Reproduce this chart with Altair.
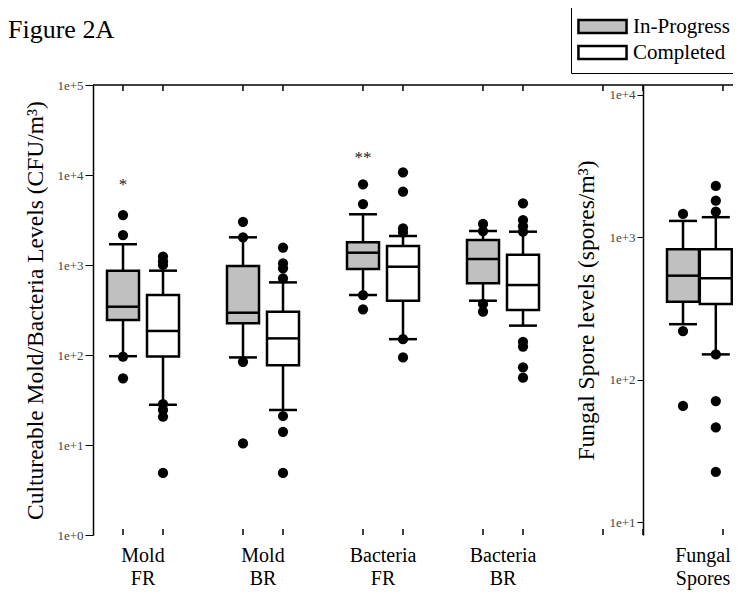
import altair as alt
import pandas as pd

# ---------------- data ----------------
categories = ["Mold FR", "Mold BR", "Bacteria FR", "Bacteria BR", "Fungal Spores"]
statuses = ["In-Progress", "Completed"]

# one entry per box: for each category In-Progress then Completed
whisker_low = [97, 28, 94, 24.5, 464, 150, 401, 212, 246, 151]
q1 = [245, 96, 225, 77, 903, 401, 626, 316, 354, 341]
median = [344, 185, 295, 153, 1370, 957, 1166, 599, 539, 517]
q3 = [865, 464, 975, 302, 1787, 1625, 1896, 1302, 826, 826]
whisker_high = [1700, 865, 2030, 641, 3660, 2100, 2386, 2345, 1306, 1387]
outliers = [
    [3590, 2150, 96, 55],
    [1240, 1100, 1000, 28.5, 24.5, 20.6, 4.9],
    [3020, 2030, 84, 10.4],
    [1560, 1040, 920, 710, 21, 14, 4.9],
    [7880, 4760, 464, 322],
    [10700, 6530, 2550, 2300, 150, 94],
    [2856, 2386, 369, 303],
    [4840, 3160, 2700, 2345, 140, 124, 73, 56],
    [1463, 220, 65.6],
    [2301, 1811, 1517, 151, 71, 46.4, 22.6],
]
annot_text = ["*", "**"]
annot_category = ["Mold FR", "Bacteria FR"]
annot_value = [7700, 15500]

left_ticks = [1, 10, 100, 1000, 10000, 100000]
right_ticks = [10, 100, 1000, 10000]

# ---------------- layout ----------------
UNIT = 40.0
PLOT_W = 640
PLOT_H = 450
XMAX = PLOT_W / UNIT
AXIS2_POS = 13.75
FONT = "Liberation Serif"
LW = 2.5
HALF = 0.4


def box_pos(ci, si):
    if ci < 4:
        return 3 * ci + 0.75 + si
    # right panel is squeezed slightly so its last box stays inside the page
    return AXIS2_POS + 1 + 0.82 * si


rows, out_rows = [], []
k = 0
for ci, cat in enumerate(categories):
    for si, st in enumerate(statuses):
        p = box_pos(ci, si)
        panel = "left" if ci < 4 else "right"
        rows.append(dict(category=cat, status=st, pos=p, panel=panel,
                         wl=whisker_low[k], q1=q1[k], med=median[k],
                         q3=q3[k], wh=whisker_high[k]))
        for v in outliers[k]:
            out_rows.append(dict(category=cat, status=st, pos=p, panel=panel, value=v))
        k += 1
boxes = pd.DataFrame(rows)
outs = pd.DataFrame(out_rows)

annot = pd.DataFrame({
    "mark": annot_text,
    "pos": [box_pos(categories.index(c), 0) for c in annot_category],
    "value": annot_value,
})

sep_ticks = [3 * g + 2.75 for g in range(5)]
minor_ticks = [kk + 0.75 for kk in range(17) if kk % 3 != 2 and kk + 0.75 < XMAX]

xscale = alt.Scale(domain=[0, XMAX], nice=False, zero=False)
fillscale = alt.Scale(domain=statuses, range=["#c0c0c0", "#ffffff"])
left_y = alt.Scale(type="log", domain=[1, 100000], nice=False)
right_y = alt.Scale(type="log", domain=[8.15, 11750], nice=False)

legend = alt.Legend(
    title=None, orient="none", legendX=478, legendY=-82, direction="vertical",
    symbolType="M-1.85,-0.5H1.85V0.5H-1.85Z", symbolSize=676,
    symbolStrokeColor="black", symbolStrokeWidth=2.5, symbolOffset=8,
    labelFont=FONT, labelFontSize=21, labelColor="black", labelOffset=16,
    strokeColor="black", padding=9, rowPadding=0,
)

left_axis = alt.Axis(
    orient="left", values=left_ticks, format=".0e", grid=False,
    title="Cultureable Mold/Bacteria Levels (CFU/m³)", titlePadding=9,
    tickSize=8, labelPadding=2,
)
right_axis = alt.Axis(
    orient="left", offset=-AXIS2_POS * UNIT, values=right_ticks, format=".0e",
    grid=False, title="Fungal Spore levels (spores/m³)", titlePadding=10,
    tickSize=6, labelPadding=2,
)


def panel_marks(bdf, odf, yscale, yaxis, leg):
    base = alt.Chart(bdf)
    whisk_lo = base.mark_rule(color="black", strokeWidth=LW).encode(
        x=alt.X("pos:Q", scale=xscale, axis=None),
        y=alt.Y("wl:Q", scale=yscale, axis=yaxis),
        y2="q1:Q",
    )
    whisk_hi = base.mark_rule(color="black", strokeWidth=LW).encode(
        x=alt.X("pos:Q", scale=xscale, axis=None),
        y=alt.Y("q3:Q", scale=yscale, axis=None),
        y2="wh:Q",
    )
    caps = base.transform_fold(["wl", "wh"], as_=["k", "v"]).transform_calculate(
        c1="datum.pos - 0.35", c2="datum.pos + 0.35"
    ).mark_rule(color="black", strokeWidth=LW).encode(
        x=alt.X("c1:Q", scale=xscale, axis=None),
        x2="c2:Q",
        y=alt.Y("v:Q", scale=yscale, axis=None),
    )
    rect = base.transform_calculate(
        b1=f"datum.pos - {HALF}", b2=f"datum.pos + {HALF}"
    ).mark_rect(stroke="black", strokeWidth=LW).encode(
        x=alt.X("b1:Q", scale=xscale, axis=None),
        x2="b2:Q",
        y=alt.Y("q1:Q", scale=yscale, axis=None),
        y2="q3:Q",
        fill=alt.Fill("status:N", scale=fillscale, legend=leg),
    )
    med = base.transform_calculate(
        b1=f"datum.pos - {HALF}", b2=f"datum.pos + {HALF}"
    ).mark_rule(color="black", strokeWidth=LW).encode(
        x=alt.X("b1:Q", scale=xscale, axis=None),
        x2="b2:Q",
        y=alt.Y("med:Q", scale=yscale, axis=None),
    )
    pts = alt.Chart(odf).mark_circle(size=105, color="black", opacity=1).encode(
        x=alt.X("pos:Q", scale=xscale, axis=None),
        y=alt.Y("value:Q", scale=yscale, axis=None),
    )
    return [whisk_lo, whisk_hi, caps, rect, med, pts]


left_marks = panel_marks(boxes[boxes.panel == "left"], outs[outs.panel == "left"],
                         left_y, left_axis, legend)
right_marks = panel_marks(boxes[boxes.panel == "right"], outs[outs.panel == "right"],
                          right_y, right_axis, None)

stars = alt.Chart(annot).mark_text(
    font=FONT, fontSize=17, color="#222222", baseline="middle"
).encode(
    x=alt.X("pos:Q", scale=xscale, axis=None),
    y=alt.Y("value:Q", scale=left_y, axis=None),
    text="mark:N",
)

one = pd.DataFrame({"a": [0]})
frame_top = alt.Chart(one).mark_rule(color="black", strokeWidth=1.5).encode(
    x=alt.value(0), x2=alt.value(PLOT_W), y=alt.value(0)
)

tick_df = pd.DataFrame({"pos": minor_ticks})
up_ticks = alt.Chart(tick_df).mark_rule(color="black", strokeWidth=1.5).encode(
    x=alt.X("pos:Q", scale=xscale, axis=alt.Axis(
        orient="bottom", values=sep_ticks, labels=False, title=None, grid=False,
        tickSize=7, tickWidth=1.5, domainWidth=1.5)),
    y=alt.value(PLOT_H), y2=alt.value(PLOT_H - 6),
)
top_ticks = alt.Chart(tick_df).mark_rule(color="black", strokeWidth=1.5).encode(
    x=alt.X("pos:Q", scale=xscale, axis=None),
    y=alt.value(0), y2=alt.value(6),
)

label_df = pd.DataFrame({
    "pos": [3 * ci + 1.25 for ci in range(4)] + [AXIS2_POS + 1.5],
    "label": [c.replace(" ", "\n") for c in categories],
})
group_labels = alt.Chart(label_df).mark_text(
    font=FONT, fontSize=20, lineHeight=23, baseline="top", align="center",
    lineBreak="\n", color="black",
).encode(
    x=alt.X("pos:Q", scale=xscale, axis=None),
    y=alt.value(PLOT_H + 11),
    text="label:N",
)

fig_title = alt.Chart(one).mark_text(
    text="Figure 2A", font=FONT, fontSize=26, align="left",
    baseline="alphabetic", color="black",
).encode(x=alt.value(-85), y=alt.value(-47))

chart = alt.layer(
    frame_top, up_ticks, top_ticks, *left_marks, *right_marks, stars,
    group_labels, fig_title
).resolve_scale(y="independent").properties(
    width=PLOT_W, height=PLOT_H,
    autosize=alt.AutoSizeParams(type="none"),
    padding={"left": 85, "top": 77, "right": 0, "bottom": 58},
).configure(font=FONT).configure_view(stroke=None).configure_axis(
    labelFont=FONT, labelFontSize=13, labelColor="#444444",
    titleFont=FONT, titleFontSize=23.5, titleFontWeight="normal", titleColor="black",
    domainColor="black", domainWidth=1.5, tickColor="black", tickWidth=1,
)

chart.save("out.html", embed_options={"renderer": "svg", "actions": False})
